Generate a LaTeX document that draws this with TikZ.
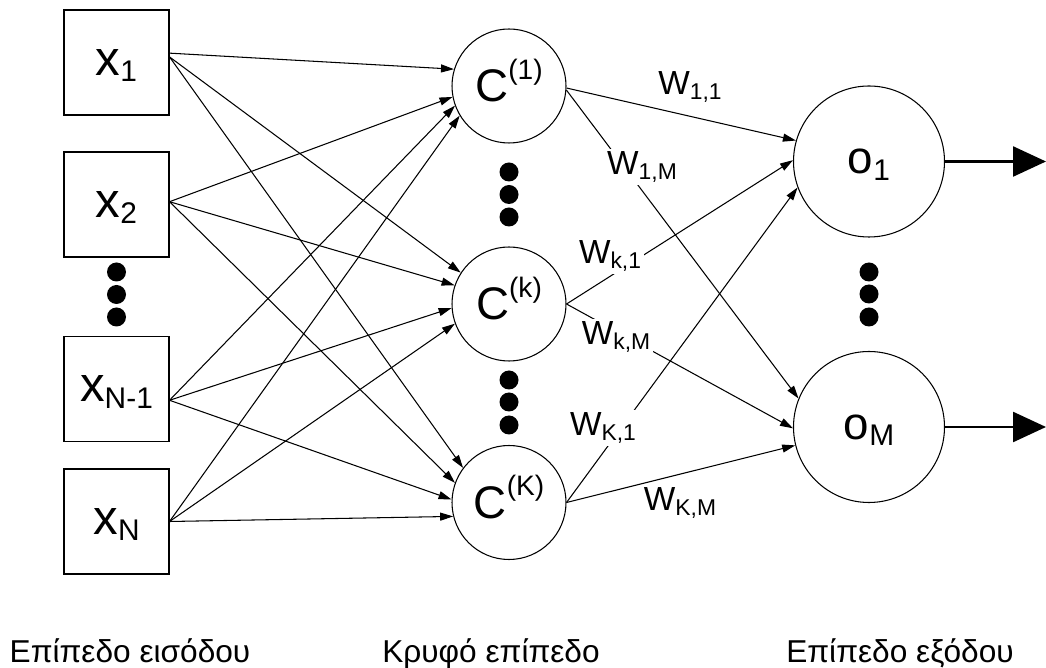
\documentclass[tikz,border=0pt]{standalone}
\usepackage{fontspec}
\setmainfont{Liberation Sans}
\usetikzlibrary{arrows.meta}
\tikzset{
    inbox/.style={draw=black, line width=0.6pt, minimum width=2.1cm, minimum height=2.1cm, inner sep=0pt, font=\fontsize{28}{28}\selectfont},
    hidden/.style={circle, draw=black, line width=0.6pt, minimum size=2.28cm, inner sep=0pt, font=\fontsize{26}{26}\selectfont},
    outnode/.style={circle, draw=black, line width=0.6pt, minimum size=3.02cm, inner sep=0pt, font=\fontsize{26}{26}\selectfont},
    conn/.style={line width=0.6pt, -{Triangle[length=0.26cm, width=0.16cm]}},
    outarrow/.style={line width=1.4pt, -{Triangle[length=0.66cm, width=0.6cm]}},
    wlabel/.style={fill=white, inner sep=1.5pt, font=\fontsize{19}{19}\selectfont},
    layerlabel/.style={anchor=base, font=\fontsize{18}{18}\selectfont},
}
\newcommand\xsub[1]{\raisebox{-0.13cm}[0pt][0pt]{\fontsize{17}{17}\selectfont #1}}
\newcommand\csup[1]{\raisebox{0.45cm}[0pt][0pt]{\fontsize{16}{16}\selectfont #1}}
\newcommand\wsub[1]{\raisebox{-0.1cm}{\fontsize{13}{13}\selectfont #1}}

\begin{document}
\begin{tikzpicture}
    \newcommand\colIn{2.33}
    \newcommand\colHid{10.18}
    \newcommand\colOut{17.38}

    \useasboundingbox (0, 0) rectangle (20.92, 13.36);

    % input layer
    \node[inbox] (x1) at (\colIn, 12.11){x\xsub{1}};
    \node[inbox] (x2) at (\colIn, 9.27){x\xsub{2}};
    \node[inbox] (xn1) at (\colIn, 5.58){x\xsub{N-1}};
    \node[inbox] (xn) at (\colIn, 2.93){x\xsub{N}};
    \fill (\colIn, 7.92) circle (0.19);
    \fill (\colIn, 7.47) circle (0.19);
    \fill (\colIn, 7.02) circle (0.19);

    % hidden layer
    \node[hidden] (c1) at (\colHid, 11.64){C\csup{(1)}};
    \node[hidden] (ck) at (\colHid, 7.28){C\csup{(k)}};
    \node[hidden] (cK) at (\colHid, 3.31){C\csup{(K)}};
    \fill (\colHid, 9.92) circle (0.19);
    \fill (\colHid, 9.47) circle (0.19);
    \fill (\colHid, 9.02) circle (0.19);
    \fill (\colHid, 5.76) circle (0.19);
    \fill (\colHid, 5.32) circle (0.19);
    \fill (\colHid, 4.86) circle (0.19);

    % output layer
    \node[outnode] (o1) at (\colOut, 10.13){o\xsub{1}};
    \node[outnode] (oM) at (\colOut, 4.82){o\xsub{M}};
    \fill (\colOut, 7.92) circle (0.19);
    \fill (\colOut, 7.48) circle (0.19);
    \fill (\colOut, 7.02) circle (0.19);

    % input -> hidden
    \draw[conn] (x1.10) -- (c1.163);
    \draw[conn] (x1.6) -- (ck.147);
    \draw[conn] (x1.6) -- (cK.143);
    \draw[conn] (x2.3) -- (c1.191);
    \draw[conn] (x2.3) -- (ck.161);
    \draw[conn] (x2.3) -- (cK.160);
    \draw[conn] (xn1.-12) -- (c1.200);
    \draw[conn] (xn1.-12) -- (ck.184);
    \draw[conn] (xn1.-12) -- (cK.177);
    \draw[conn] (xn.east) -- (c1.211);
    \draw[conn] (xn.east) -- (ck.200);
    \draw[conn] (xn.east) -- (cK.194);

    % hidden -> output
    \draw[conn] (c1.-2) -- (o1.164);
    \draw[conn] (c1.-4) -- (oM.158);
    \draw[conn] (ck.east) -- (o1.179);
    \draw[conn] (ck.east) -- (oM.181);
    \draw[conn] (cK.east) -- (o1.200);
    \draw[conn] (cK.east) -- (oM.194);

    % weights
    \node[wlabel] (w11) at (13.80, 11.62){W\wsub{1,1}};
    \node[wlabel] (w1M) at (12.84, 10.02){W\wsub{1,M}};
    \node[wlabel] (wk1) at (12.20, 8.24){W\wsub{k,1}};
    \node[wlabel] (wkM) at (12.32, 6.62){W\wsub{k,M}};
    \node[wlabel] (wK1) at (12.06, 4.80){W\wsub{K,1}};
    \node[wlabel] (wKM) at (13.60, 3.30){W\wsub{K,M}};

    % outputs
    \coordinate (end1) at (20.92, 10.13);
    \coordinate (endM) at (20.92, 4.82);
    \draw[outarrow] (o1.east) -- (end1);
    \draw[outarrow] (oM.east) -- (endM);

    \node[layerlabel] (labIn) at (2.6, 0.12){Επίπεδο εισόδου};
    \node[layerlabel] (labHid) at (9.82, 0.12){Κρυφό επίπεδο};
    \node[layerlabel] (labOut) at (18.0, 0.12){Επίπεδο εξόδου};
\end{tikzpicture}
\end{document}
